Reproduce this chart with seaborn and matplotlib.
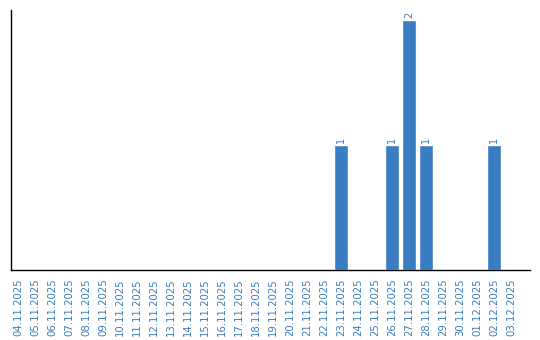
import matplotlib
matplotlib.use("Agg")
import matplotlib.pyplot as plt
import seaborn as sns
import pandas as pd

dates = ["04.11.2025", "05.11.2025", "06.11.2025", "07.11.2025", "08.11.2025",
         "09.11.2025", "10.11.2025", "11.11.2025", "12.11.2025", "13.11.2025",
         "14.11.2025", "15.11.2025", "16.11.2025", "17.11.2025", "18.11.2025",
         "19.11.2025", "20.11.2025", "21.11.2025", "22.11.2025", "23.11.2025",
         "24.11.2025", "25.11.2025", "26.11.2025", "27.11.2025", "28.11.2025",
         "29.11.2025", "30.11.2025", "01.12.2025", "02.12.2025", "03.12.2025"]
counts = [0, 0, 0, 0, 0, 0, 0, 0, 0, 0,
          0, 0, 0, 0, 0, 0, 0, 0, 0, 1,
          0, 0, 1, 2, 1, 0, 0, 0, 1, 0]

BLUE = "#3a7dc2"
sns.set_style("white")
plt.rcParams['font.family'] = ['DejaVu Sans']

df = pd.DataFrame({"date": dates, "count": counts})
fig = plt.figure(figsize=(5.4, 3.4), dpi=100)
ax = fig.add_axes([10.5/540, 70/340, (530-10.5)/540, (270-10)/340])
sns.barplot(data=df, x="date", y="count", color=BLUE, saturation=1, width=0.82, ax=ax)

for i, v in enumerate(counts):
    if v > 0:
        ax.text(i, v + 0.02, str(v), rotation=90, ha="center", va="bottom",
                color=BLUE, fontsize=7)

ax.set_xlim(-0.44, 30.12)
ax.set_ylim(0, 2.08)
ax.set_xlabel("")
ax.set_ylabel("")
ax.set_yticks([])
ax.tick_params(axis="x", length=0, pad=6, labelsize=7.3, labelcolor=BLUE, rotation=90)
for s in ["top", "right"]:
    ax.spines[s].set_visible(False)
for s in ["left", "bottom"]:
    ax.spines[s].set_color("black")
    ax.spines[s].set_linewidth(1.0)

fig.savefig("out.png", dpi=100)
